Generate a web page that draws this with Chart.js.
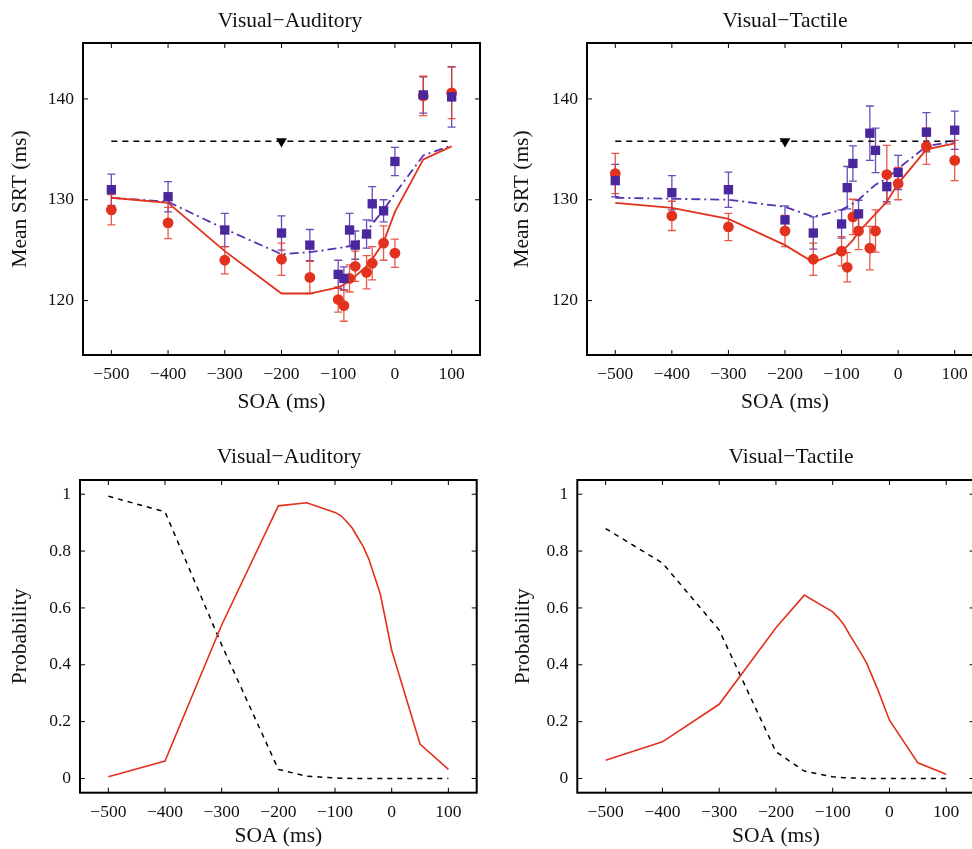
<!DOCTYPE html>
<html>
<head>
<meta charset="utf-8">
<title>SRT and race model probability</title>
<script src="https://cdn.jsdelivr.net/npm/chart.js@4.4.1/dist/chart.umd.min.js"></script>
<style>
  html, body { margin: 0; padding: 0; background: #fff; overflow: hidden; width: 972px; height: 849px; }
  canvas { position: absolute; }
</style>
</head>
<body>
<canvas id="srtVA" width="580" height="415" style="left:0;top:0"></canvas>
<canvas id="srtVT" width="570" height="415" style="left:500px;top:0"></canvas>
<canvas id="probVA" width="578" height="419" style="left:0;top:430px"></canvas>
<canvas id="probVT" width="582" height="419" style="left:500px;top:430px"></canvas>
<script>
// --- DATA ---
const soa = [-500, -400, -300, -200, -150, -100, -90, -80, -70, -50, -40, -20, 0, 50, 100];
const xTicks = [-500, -400, -300, -200, -100, 0, 100];
const srtTicks = [120, 130, 140];
const probTicks = [0, 0.2, 0.4, 0.6, 0.8, 1];

// race model baseline (dashed) + marker
const raceX = [-500, 100];
const raceMarkX = [-200];
const vaRace = [135.8, 135.8];
const vtRace = [135.8, 135.8];

// visual-auditory mean SRT
const vaRed = [129.0, 127.7, 124.0, 124.1, 122.3, 120.1, 119.5, 122.2, 123.4, 122.8, 123.7, 125.7, 124.7, 140.3, 140.6];
const vaRedErr = [1.5, 1.55, 1.35, 1.6, 1.6, 1.25, 1.55, 1.35, 1.5, 1.65, 1.65, 1.7, 1.4, 1.95, 2.55];
const vaBlue = [131.0, 130.3, 127.0, 126.7, 125.5, 122.6, 122.2, 127.0, 125.5, 126.6, 129.6, 128.9, 133.8, 140.4, 140.2];
const vaBlueErr = [1.55, 1.5, 1.65, 1.7, 1.55, 1.4, 1.15, 1.65, 1.4, 1.4, 1.7, 1.1, 1.4, 1.8, 3.0];
const vaRedFit = [130.2, 129.7, 124.9, 120.7, 120.7, 121.3, 121.6, 122.0, 122.4, 123.4, 124.1, 125.8, 128.8, 134.0, 135.3];
const vaBlueFit = [130.2, 129.8, 127.1, 124.6, 124.8, 125.2, 125.3, 125.4, 125.6, 126.7, 127.6, 129.0, 130.6, 134.4, 135.4];

// visual-tactile mean SRT
const vtRed = [132.6, 128.4, 127.3, 126.9, 124.1, 124.9, 123.3, 128.3, 126.9, 125.2, 126.9, 132.5, 131.6, 135.3, 133.9];
const vtRedErr = [2.0, 1.45, 1.35, 1.55, 1.6, 1.45, 1.45, 1.75, 1.85, 2.15, 2.1, 2.9, 1.6, 1.8, 2.0];
const vtBlue = [131.9, 130.7, 131.0, 128.0, 126.7, 127.6, 131.2, 133.6, 128.6, 136.6, 134.9, 131.3, 132.7, 136.7, 136.9];
const vtBlueErr = [1.6, 1.7, 1.75, 1.4, 1.6, 1.4, 2.1, 1.75, 1.35, 2.7, 2.2, 1.5, 1.7, 1.95, 1.9];
const vtRedFit = [129.7, 129.2, 128.1, 125.5, 123.8, 124.9, 125.4, 126.0, 126.8, 128.0, 128.6, 129.8, 131.6, 135.0, 135.6];
const vtBlueFit = [130.2, 130.1, 130.0, 129.3, 128.3, 129.0, 129.3, 129.6, 130.0, 131.0, 131.5, 132.1, 133.1, 135.3, 135.8];

// probabilities
const vaProbRed = [0.006, 0.061, 0.54, 0.959, 0.970, 0.936, 0.925, 0.905, 0.882, 0.815, 0.770, 0.648, 0.451, 0.121, 0.032];
const vaProbBlack = [0.993, 0.938, 0.47, 0.032, 0.008, 0.002, 0.001, 0.001, 0, 0, 0, 0, 0, 0, 0];
const vtProbRed = [0.064, 0.129, 0.261, 0.53, 0.645, 0.586, 0.565, 0.54, 0.505, 0.44, 0.405, 0.31, 0.205, 0.055, 0.015];
const vtProbBlack = [0.879, 0.758, 0.522, 0.094, 0.026, 0.006, 0.004, 0.003, 0.002, 0.001, 0, 0, 0, 0, 0];

// --- STYLE ---
const serif = "'Liberation Serif', 'DejaVu Serif', serif";
const ink = "#111";
const red = "#e2311d";
const blue = "#4a279c";

const pts = (xs, ys) => xs.map((x, i) => ({ x, y: ys[i] }));
const fmtSoa = v => (v < 0 ? "\u2212" + Math.abs(v) : String(v));

// --- PLUGINS ---
const errorBars = {
  id: "errorBars",
  beforeDatasetsDraw(chart) {
    const { ctx, scales: { x, y } } = chart;
    ctx.save();
    chart.data.datasets.forEach(ds => {
      if (!ds.errors) return;
      ctx.strokeStyle = ds.errorColor;
      ctx.lineWidth = 1.3;
      ds.data.forEach((p, i) => {
        const px = x.getPixelForValue(p.x);
        const top = y.getPixelForValue(p.y + ds.errors[i]);
        const bot = y.getPixelForValue(p.y - ds.errors[i]);
        ctx.beginPath();
        ctx.moveTo(px, top); ctx.lineTo(px, bot);
        ctx.moveTo(px - 4, top); ctx.lineTo(px + 4, top);
        ctx.moveTo(px - 4, bot); ctx.lineTo(px + 4, bot);
        ctx.stroke();
      });
    });
    ctx.restore();
  }
};

// matlab style box with inward ticks
const frame = {
  id: "frame",
  afterDraw(chart) {
    const { ctx, chartArea: a, scales: { x, y } } = chart;
    ctx.save();
    ctx.strokeStyle = "#000";
    ctx.lineWidth = 1;
    ctx.beginPath();
    x.ticks.forEach(t => {
      const px = x.getPixelForValue(t.value);
      ctx.moveTo(px, a.bottom); ctx.lineTo(px, a.bottom - 5);
      ctx.moveTo(px, a.top); ctx.lineTo(px, a.top + 5);
    });
    y.ticks.forEach(t => {
      const py = y.getPixelForValue(t.value);
      ctx.moveTo(a.left, py); ctx.lineTo(a.left + 5, py);
      ctx.moveTo(a.right, py); ctx.lineTo(a.right - 5, py);
    });
    ctx.stroke();
    ctx.lineWidth = 2;
    ctx.strokeRect(a.left, a.top, a.right - a.left, a.bottom - a.top);
    ctx.restore();
  }
};

// --- CHARTS ---
function makePanel(id, p) {
  const tickFont = { family: serif, size: 17.5 };
  const labelFont = { family: serif, size: 21.5 };
  return new Chart(document.getElementById(id), {
    type: "scatter",
    data: { datasets: p.datasets },
    plugins: [errorBars, frame],
    options: {
      responsive: false,
      animation: false,
      events: [],
      plugins: {
        legend: { display: false },
        tooltip: { enabled: false },
        title: {
          display: true, text: p.title, color: ink,
          font: { family: serif, size: 21.5, weight: "normal" },
          padding: { top: p.titleTop, bottom: p.titleBottom }
        }
      },
      scales: {
        x: {
          type: "linear", min: -550, max: 150,
          afterBuildTicks: s => { s.ticks = xTicks.map(v => ({ value: v })); },
          afterFit: s => { s.height = p.xHeight; },
          grid: { display: false, drawTicks: false }, border: { display: false },
          ticks: { color: ink, font: tickFont, padding: 9, maxRotation: 0, autoSkip: false, callback: fmtSoa },
          title: { display: true, text: "SOA (ms)", color: ink, font: labelFont, padding: 0 }
        },
        y: {
          type: "linear", min: p.yMin, max: p.yMax,
          afterBuildTicks: s => { s.ticks = p.yTicks.map(v => ({ value: v })); },
          afterFit: s => { s.width = p.yWidth; },
          grid: { display: false, drawTicks: false }, border: { display: false },
          ticks: { color: ink, font: tickFont, padding: 9, callback: v => String(v) },
          title: { display: true, text: p.yTitle, color: ink, font: labelFont, padding: { top: p.yTitlePad, bottom: 0 } }
        },
        spare: {
          position: "right", grid: { display: false, drawTicks: false }, border: { display: false },
          ticks: { display: false },
          afterFit: s => { s.width = p.rightPad; }
        }
      }
    }
  });
}

function srtSets(redObs, redErr, blueObs, blueErr, redFit, blueFit, race) {
  return [
    { data: pts(raceMarkX, [race[0]]), pointStyle: "triangle", rotation: 180, pointRadius: 6.2, backgroundColor: "#000", borderColor: "#000", borderWidth: 0 },
    { data: pts(soa, blueObs), errors: blueErr, errorColor: "rgba(80,45,170,0.85)", pointStyle: "rect", pointRadius: 6.6, backgroundColor: blue, borderColor: blue, borderWidth: 0 },
    { data: pts(soa, redObs), errors: redErr, errorColor: "rgba(228,60,40,0.85)", pointStyle: "circle", pointRadius: 5.4, backgroundColor: red, borderColor: red, borderWidth: 0 },
    { data: pts(soa, redFit), showLine: true, pointRadius: 0, borderColor: red, borderWidth: 1.8 },
    { data: pts(soa, blueFit), showLine: true, pointRadius: 0, borderColor: "#5532b0", borderWidth: 1.8, borderDash: [9, 4, 2, 4] },
    { data: pts(raceX, race), showLine: true, pointRadius: 0, borderColor: "#000", borderWidth: 1.5, borderDash: [6, 5] }
  ];
}

function probSets(redP, blackP) {
  return [
    { data: pts(soa, redP), showLine: true, pointRadius: 0, borderColor: red, borderWidth: 1.6 },
    { data: pts(soa, blackP), showLine: true, pointRadius: 0, borderColor: "#000", borderWidth: 1.5, borderDash: [5, 5] }
  ];
}

makePanel("srtVA", {
  title: "Visual\u2212Auditory", titleTop: 8.6, titleBottom: 8.6,
  yTitle: "Mean SRT (ms)", yTitlePad: 7.6, yWidth: 83, rightPad: 100, xHeight: 60,
  yMin: 114.6, yMax: 145.55, yTicks: srtTicks,
  datasets: srtSets(vaRed, vaRedErr, vaBlue, vaBlueErr, vaRedFit, vaBlueFit, vaRace)
});

makePanel("srtVT", {
  title: "Visual\u2212Tactile", titleTop: 8.6, titleBottom: 8.6,
  yTitle: "Mean SRT (ms)", yTitlePad: 9.1, yWidth: 87, rightPad: 87, xHeight: 60,
  yMin: 114.6, yMax: 145.55, yTicks: srtTicks,
  datasets: srtSets(vtRed, vtRedErr, vtBlue, vtBlueErr, vtRedFit, vtBlueFit, vtRace)
});

makePanel("probVA", {
  title: "Visual\u2212Auditory", titleTop: 14.6, titleBottom: 9.6,
  yTitle: "Probability", yTitlePad: 7.1, yWidth: 80, rightPad: 101.3, xHeight: 56.3,
  yMin: -0.05, yMax: 1.05, yTicks: probTicks,
  datasets: probSets(vaProbRed, vaProbBlack)
});

makePanel("probVT", {
  title: "Visual\u2212Tactile", titleTop: 14.6, titleBottom: 9.6,
  yTitle: "Probability", yTitlePad: 10.1, yWidth: 77.3, rightPad: 107.4, xHeight: 56.3,
  yMin: -0.05, yMax: 1.05, yTicks: probTicks,
  datasets: probSets(vtProbRed, vtProbBlack)
});
</script>
</body>
</html>
